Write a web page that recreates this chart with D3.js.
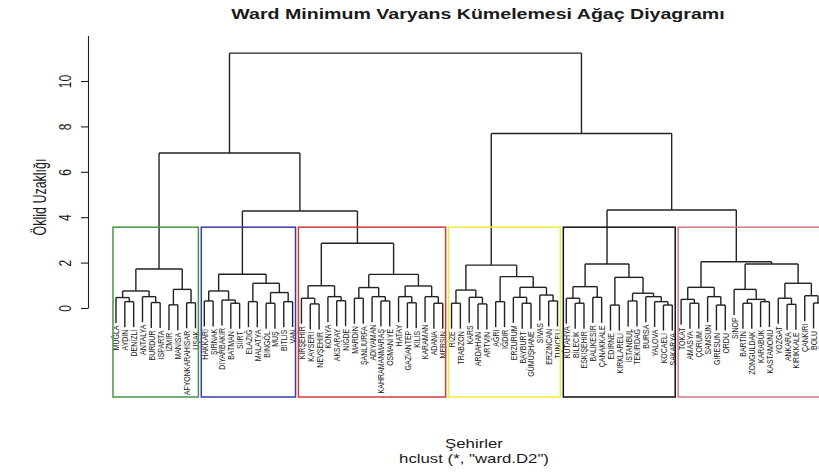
<!DOCTYPE html>
<html>
<head>
<meta charset="utf-8">
<script src="https://cdn.jsdelivr.net/npm/d3@7/dist/d3.min.js"></script>
<style>
  body { margin: 0; background: #fff; }
  svg { display: block; }
  text { font-family: "Liberation Sans", Arial, sans-serif; fill: #1a1a1a; }
</style>
</head>
<body>
<svg id="chart" width="819" height="473"></svg>
<script>
// Provinces in dendrogram leaf order
const cities = [
  "MUĞLA","AYDIN","DENİZLİ","ANTALYA","BURDUR","ISPARTA","İZMİR","MANİSA","AFYONKARAHİSAR","UŞAK",
  "HAKKARİ","ŞIRNAK","DİYARBAKIR","BATMAN","SİİRT","ELAZIĞ","MALATYA","BİNGÖL","MUŞ","BİTLİS","VAN",
  "KIRŞEHİR","KAYSERİ","NEVŞEHİR","KONYA","AKSARAY","NİĞDE","MARDİN","ŞANLIURFA","ADIYAMAN","KAHRAMANMARAŞ","OSMANİYE","HATAY","GAZİANTEP","KİLİS","KARAMAN","ADANA","MERSİN",
  "RİZE","TRABZON","KARS","ARDAHAN","ARTVİN","AĞRI","IĞDIR","ERZURUM","BAYBURT","GÜMÜŞHANE","SİVAS","ERZİNCAN","TUNCELİ",
  "KÜTAHYA","BİLECİK","ESKİŞEHİR","BALIKESİR","ÇANAKKALE","EDİRNE","KIRKLARELİ","İSTANBUL","TEKİRDAĞ","BURSA","YALOVA","KOCAELİ","SAKARYA",
  "TOKAT","AMASYA","ÇORUM","SAMSUN","GİRESUN","ORDU","SİNOP","BARTIN","ZONGULDAK","KARABÜK","KASTAMONU","YOZGAT","ANKARA","KIRIKKALE","ÇANKIRI","BOLU","DÜZCE"
];

// hclust-style merge table: negative = leaf (1-based position in cities),
// positive = an earlier row of this table
const merge = [
  [-2,-3],[-1,1],[-5,-6],[-4,3],[2,4],[-7,-8],[-9,-10],[6,7],[5,8],
  [-11,-12],[-14,-15],[-13,11],[10,12],[-16,-17],[-18,-19],[-20,-21],[15,16],[14,17],[13,18],
  [-23,-24],[-22,20],[-26,-27],[-25,22],[21,23],[-28,-29],[-31,-32],[-30,26],[25,27],
  [-34,-35],[-33,29],[-37,-38],[-36,31],[30,32],[28,33],[24,34],
  [19,35],[9,36],
  [-39,-40],[-42,-43],[-41,39],[38,40],[-44,-45],[-47,-48],[-46,43],[-50,-51],[-49,45],[44,46],[42,47],[41,48],
  [-53,-54],[-52,50],[-55,-56],[51,52],[-57,-58],[-59,-60],[-63,-64],[-62,56],[-61,57],[55,58],[54,59],[53,60],
  [-66,-67],[-65,62],[-69,-70],[-68,64],[63,65],[-72,-73],[-74,-75],[67,68],[-71,69],
  [-77,-78],[-76,71],[-80,-81],[-79,73],[72,74],[70,75],[66,76],
  [61,77],[49,78],[37,79]
];

// Merge heights (Euclidean distance, Ward.D2), one per merge row
const height = [
  0.28,0.46,0.24,0.50,0.75,0.14,0.23,0.82,1.72,
  0.31,0.21,0.35,0.75,0.28,0.21,0.28,0.68,1.09,1.49,
  0.18,0.43,0.32,0.50,0.98,0.43,0.31,0.50,0.90,
  0.23,0.50,0.21,0.50,0.97,1.48,2.85,
  4.27,6.83,
  0.21,0.18,0.47,0.79,0.28,0.21,0.47,0.31,0.57,0.91,1.38,1.89,
  0.21,0.43,0.47,0.94,0.13,0.31,0.13,0.28,0.50,0.65,1.35,1.94,
  0.21,0.38,0.13,0.50,0.91,0.21,0.28,0.38,0.82,
  0.16,0.43,0.22,0.54,1.09,1.94,2.04,
  4.32,7.69,11.23
];

const yTicks = [0, 2, 4, 6, 8, 10];
const k = 6;
const boxColors = ["#469646", "#3a3aae", "#d43c3c", "#ecec3c", "#111111", "#d27a7a"];

const titleText = "Ward Minimum Varyans Kümelemesi Ağaç Diyagramı";
const xTitle = "Şehirler";
const subTitle = 'hclust (*, "ward.D2")';
const yTitle = "Öklid Uzaklığı";

// ---- layout ----
const svg = d3.select("#chart");
const stretch = 1.4;          // horizontal text aspect of the device
const plotBottom = 397;       // lower edge of plotting region
const centerX = 474;
const ink = "#1e1e1e";

function build(ref) {
  if (ref < 0) return { name: cities[-ref - 1], h: 0 };
  const m = merge[ref - 1];
  return { h: height[ref - 1], children: [build(m[0]), build(m[1])] };
}
const root = d3.hierarchy(build(merge.length));
d3.cluster().size([cities.length, 1]).separation(() => 1)(root);

const x = d3.scaleLinear().domain([0.5, cities.length - 0.5]).range([116, 822.4]);
const y = d3.scaleLinear().domain([0, 12]).range([308, 35.6]);
const hang = 0.1 * d3.max(height);

// ---- dendrogram segments ----
const g = svg.append("g")
  .attr("fill", "none").attr("stroke", "#222").attr("stroke-width", 1.4);

root.each(node => {
  if (!node.children) return;
  const h = node.data.h;
  const [a, b] = node.children;
  g.append("line")
    .attr("x1", x(a.x)).attr("x2", x(b.x))
    .attr("y1", y(h)).attr("y2", y(h));
  node.children.forEach(c => {
    const bottom = c.children ? c.data.h : h - hang;
    g.append("line")
      .attr("x1", x(c.x)).attr("x2", x(c.x))
      .attr("y1", y(h)).attr("y2", y(bottom));
  });
});

// ---- leaf labels ----
svg.append("g").selectAll("text")
  .data(root.leaves())
  .join("text")
  .attr("transform", d => `translate(${x(d.x)},${y(d.parent.data.h - hang) + 2.5}) scale(${stretch},1) rotate(-90)`)
  .attr("text-anchor", "end")
  .attr("dy", "0.35em")
  .attr("font-size", 7)
  .text(d => d.data.name);

// ---- cluster boxes (cut into k groups) ----
const sortedH = height.slice().sort((p, q) => q - p);
const cutH = (sortedH[k - 2] + sortedH[k - 1]) / 2;
const groups = root.descendants()
  .filter(n => n.data.h < cutH && n.parent && n.parent.data.h >= cutH)
  .sort((p, q) => p.x - q.x);

svg.append("g").selectAll("rect")
  .data(groups)
  .join("rect")
  .attr("x", d => x(d.leaves()[0].x - 0.34))
  .attr("width", d => x(d.leaves().at(-1).x + 0.33) - x(d.leaves()[0].x - 0.34))
  .attr("y", y(cutH))
  .attr("height", plotBottom - y(cutH))
  .attr("fill", "none")
  .attr("stroke", (d, i) => boxColors[i % boxColors.length])
  .attr("stroke-width", 1.5);

// ---- y axis ----
const axis = svg.append("g")
  .attr("transform", "translate(88,0)")
  .call(d3.axisLeft(y).tickValues(yTicks).tickSize(7).tickSizeOuter(0).tickFormat(d3.format("d")));
axis.select(".domain").attr("stroke", ink).attr("stroke-width", 1.1);
axis.selectAll(".tick line").attr("stroke", ink).attr("stroke-width", 1.1);
axis.selectAll(".tick text")
  .attr("x", null).attr("dy", "0.35em")
  .attr("text-anchor", "middle")
  .attr("transform", `translate(-23,0) scale(${stretch},1) rotate(-90)`)
  .attr("font-family", "Liberation Sans, Arial, sans-serif")
  .attr("font-size", 12)
  .attr("fill", ink);

// ---- titles ----
svg.append("text")
  .attr("transform", `translate(478,19) scale(1.36,1)`)
  .attr("text-anchor", "middle")
  .attr("font-weight", "bold")
  .attr("font-size", 14.4)
  .text(titleText);

svg.append("text")
  .attr("transform", `translate(${centerX},448) scale(${stretch},1)`)
  .attr("text-anchor", "middle")
  .attr("font-size", 12)
  .text(xTitle);

svg.append("text")
  .attr("transform", `translate(${centerX},463) scale(${stretch},1)`)
  .attr("text-anchor", "middle")
  .attr("font-size", 12)
  .text(subTitle);

svg.append("text")
  .attr("transform", `translate(40,197) scale(${stretch},1) rotate(-90)`)
  .attr("text-anchor", "middle")
  .attr("dy", "0.35em")
  .attr("font-size", 12.5)
  .text(yTitle);
</script>
</body>
</html>
